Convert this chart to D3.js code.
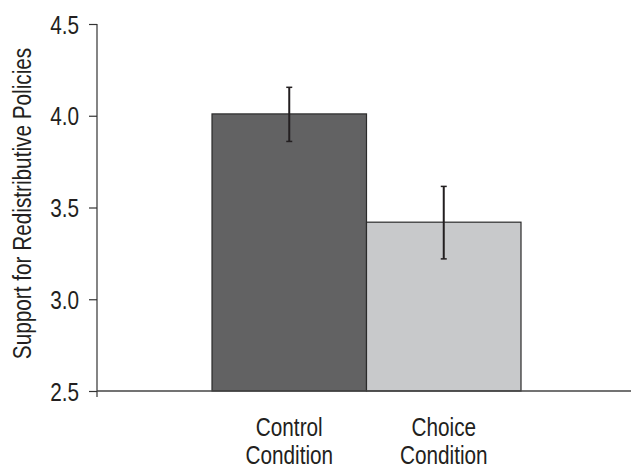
<!DOCTYPE html>
<html>
<head>
<meta charset="utf-8">
<script src="https://cdn.jsdelivr.net/npm/d3@7"></script>
<style>
  body { margin: 0; background: #fff; }
  svg text { font-family: "Liberation Sans", Arial, sans-serif; fill: #231f20; }
</style>
</head>
<body>
<div id="chart"></div>
<script>
// data
var conditions = ["Control Condition", "Choice Condition"];
var means = [4.01, 3.42];
var errLow = [3.86, 3.22];
var errHigh = [4.155, 3.615];
var yTicks = [2.5, 3.0, 3.5, 4.0, 4.5];
var barColors = ["#626263", "#c8c9cb"];

var margin = { top: 24, right: 0, bottom: 78, left: 97 },
    width = 631 - margin.left - margin.right,
    height = 469 - margin.top - margin.bottom;

// the figure uses a condensed face; squeeze Liberation Sans to fake it
var squeeze = 0.83;
var fontSize = "25px";

var svg = d3.select("#chart")
  .append("svg")
    .attr("width", 631)
    .attr("height", 469)
  .append("g")
    .attr("transform", "translate(" + margin.left + "," + margin.top + ")");

var y = d3.scaleLinear()
  .domain([2.5, 4.5])
  .range([height, 0]);

var x = d3.scaleBand()
  .domain(conditions)
  .range([115, 424])
  .padding(0);

// bars
svg.append("g")
  .selectAll("rect")
  .data(conditions)
  .enter()
    .append("rect")
    .attr("x", d => x(d))
    .attr("y", (d, i) => y(means[i]))
    .attr("width", x.bandwidth())
    .attr("height", (d, i) => y(2.5) - y(means[i]))
    .attr("fill", (d, i) => barColors[i])
    .attr("stroke", "#2b2b2b")
    .attr("stroke-width", 1.2);

// error bars
var eb = svg.append("g")
  .attr("stroke", "#231f20")
  .attr("stroke-width", 2);

conditions.forEach((c, i) => {
  var cx = x(c) + x.bandwidth() / 2;
  eb.append("line")
    .attr("x1", cx).attr("x2", cx)
    .attr("y1", y(errLow[i])).attr("y2", y(errHigh[i]));
  eb.append("line")
    .attr("x1", cx - 3).attr("x2", cx + 3)
    .attr("y1", y(errLow[i])).attr("y2", y(errLow[i]))
    .attr("stroke-width", 1.5);
  eb.append("line")
    .attr("x1", cx - 3).attr("x2", cx + 3)
    .attr("y1", y(errHigh[i])).attr("y2", y(errHigh[i]))
    .attr("stroke-width", 1.5);
});

// Y axis
var yAxis = svg.append("g")
  .call(d3.axisLeft(y)
    .tickValues(yTicks)
    .tickFormat(d3.format(".1f"))
    .tickSize(8)
    .tickPadding(10));

yAxis.select(".domain").remove();
yAxis.selectAll(".tick line").attr("stroke", "#333").attr("stroke-width", 1.2);
yAxis.selectAll(".tick text")
  .style("font-size", fontSize)
  .attr("fill", "#231f20")
  .attr("dy", "0.36em")
  .attr("x", function () { return +d3.select(this).attr("x") / squeeze; })
  .attr("transform", "scale(" + squeeze + ",1)");

svg.append("line")
  .attr("x1", 0).attr("x2", 0)
  .attr("y1", y(4.5)).attr("y2", y(2.5) + 6)
  .attr("stroke", "#333")
  .attr("stroke-width", 1.2);

// X axis
svg.append("line")
  .attr("x1", 0).attr("x2", width)
  .attr("y1", y(2.5)).attr("y2", y(2.5))
  .attr("stroke", "#444")
  .attr("stroke-width", 1.5);

var xLabels = svg.append("g")
  .selectAll("text")
  .data(conditions)
  .enter()
    .append("text")
    .attr("transform", d => "translate(" + (x(d) + x.bandwidth() / 2) + "," + (height + 45) + ") scale(" + squeeze + ",1)")
    .style("text-anchor", "middle")
    .style("font-size", fontSize);

xLabels.each(function (d) {
  var words = d.split(" ");
  var t = d3.select(this);
  words.forEach((w, i) => {
    t.append("tspan")
      .attr("x", 0)
      .attr("dy", i === 0 ? 0 : 28)
      .text(w);
  });
});

// y axis title
svg.append("text")
  .attr("transform", "translate(" + (-66) + "," + (y(3.5) - 4) + ") rotate(-90) scale(" + squeeze + ",1)")
  .style("text-anchor", "middle")
  .style("font-size", fontSize)
  .text("Support for Redistributive Policies");
</script>
</body>
</html>
